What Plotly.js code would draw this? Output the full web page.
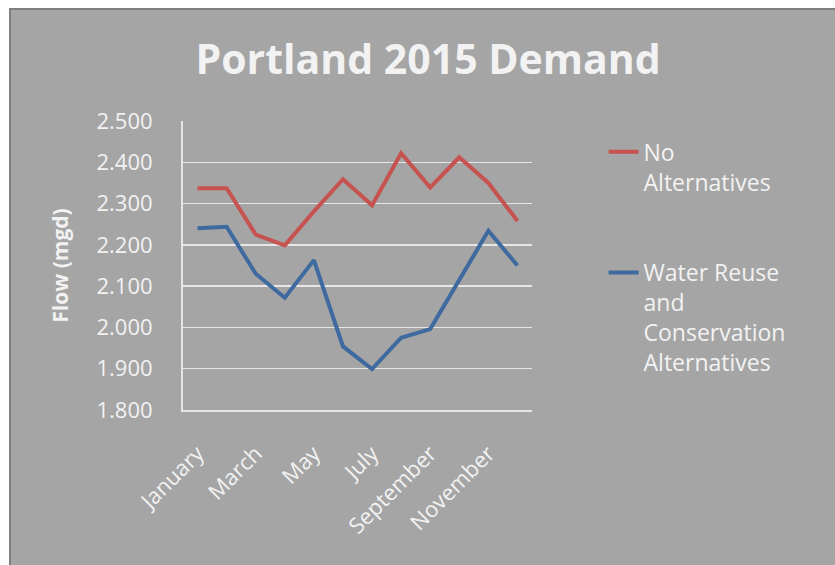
<!DOCTYPE html>
<html>
<head>
<meta charset="utf-8">
<script src="https://cdn.plot.ly/plotly-3.0.1.min.js"></script>
<style>
  html, body { margin: 0; padding: 0; background: #ffffff; width: 835px; height: 565px; overflow: hidden; }
  #frame { position: absolute; left: 9px; top: 8px; width: 826px; height: 557px; border-left: 2px solid #7f7f7f; border-top: 2px solid #7f7f7f; background: #a5a5a5; }
  #plot { position: absolute; left: 0; top: 0; width: 826px; height: 557px; }
</style>
</head>
<body>
<div id="frame"><div id="plot"></div></div>
<script>
const months = ["January","February","March","April","May","June","July","August","September","October","November","December"];
const tickMonths = ["January","March","May","July","September","November"];
const noAlternatives = [2.337, 2.337, 2.225, 2.199, 2.281, 2.359, 2.296, 2.422, 2.339, 2.412, 2.350, 2.258];
const reuseConservation = [2.240, 2.244, 2.130, 2.072, 2.163, 1.954, 1.899, 1.975, 1.996, 2.114, 2.234, 2.150];
const seriesNames = ["No<br>Alternatives", "Water Reuse<br>and<br>Conservation<br>Alternatives"];
const yTicks = [1.8, 1.9, 2.0, 2.1, 2.2, 2.3, 2.4, 2.5];

const font = "Open Sans, sans-serif";
const txt = "#f2f2f2";

const traces = [
  { x: months, y: noAlternatives, name: seriesNames[0], type: "scatter", mode: "lines",
    line: { color: "#c65350", width: 4 }, legendgroup: "a" },
  { x: months, y: reuseConservation, name: seriesNames[1], type: "scatter", mode: "lines",
    line: { color: "#3f6a9f", width: 4 }, legendgroup: "b" }
];

const layout = {
  width: 826, height: 557,
  paper_bgcolor: "#a5a5a5", plot_bgcolor: "#a5a5a5",
  margin: { l: 172, r: 305, t: 111, b: 157 },
  font: { family: font, color: txt, size: 21 },
  title: { text: "<b>Portland 2015 Demand</b>", font: { family: font, size: 41, color: txt },
           xref: "container", x: 0.505, xanchor: "center", yref: "container", y: 0.91, yanchor: "middle" },
  showlegend: true,
  legend: { x: 1.205, xanchor: "left", y: 0.968, yanchor: "top", valign: "top",
            font: { family: font, size: 23, color: txt }, bgcolor: "rgba(0,0,0,0)",
            tracegroupgap: 58, traceorder: "grouped" },
  xaxis: { type: "category", categoryorder: "array", categoryarray: months,
           tickvals: tickMonths, ticktext: tickMonths, tickangle: -45,
           range: [-0.5, 11.5], showgrid: false, showline: true, linecolor: "#e6e6e6", linewidth: 2,
           ticks: "", ticklabelstandoff: 20, tickfont: { family: font, size: 22, color: txt }, zeroline: false },
  yaxis: { range: [1.8, 2.5], tickvals: yTicks, tickformat: ".3f",
           showgrid: true, gridcolor: "#e6e6e6", gridwidth: 1.5,
           showline: true, linecolor: "#e6e6e6", linewidth: 2, ticks: "", ticklabelstandoff: 24,
           tickfont: { family: font, size: 22, color: txt }, zeroline: false,
           title: { text: "<b>Flow (mgd)</b>", font: { family: font, size: 21, color: txt }, standoff: 22 } }
};

Plotly.newPlot("plot", traces, layout, { staticPlot: true, displayModeBar: false });
</script>
</body>
</html>
